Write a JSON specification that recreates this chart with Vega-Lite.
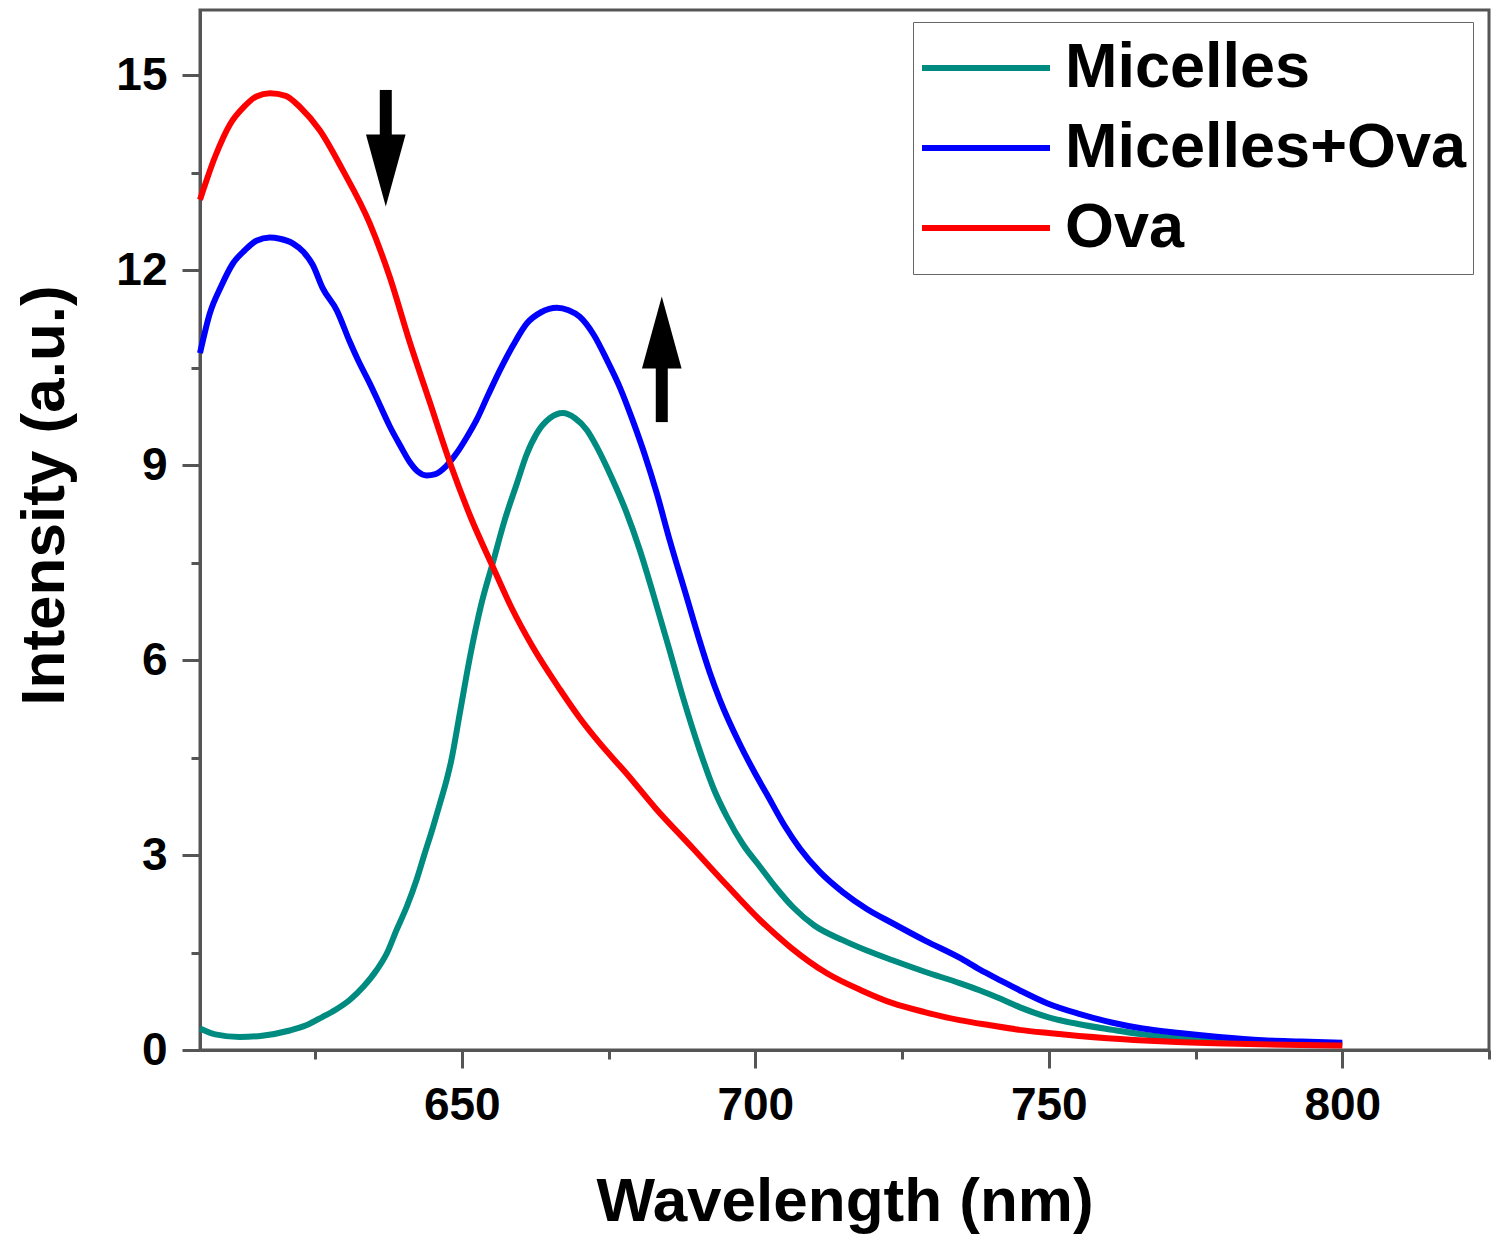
{
  "$schema": "https://vega.github.io/schema/vega-lite/v6.json",
  "width": 1289,
  "height": 1040,
  "autosize": {"type": "none"},
  "padding": {"left": 200, "top": 10, "right": 11, "bottom": 195},
  "background": "white",
  "config": {
    "view": {"stroke": "#555555", "strokeWidth": 3},
    "font": "Liberation Sans"
  },
  "datasets": {
    "spectra": [
      {"s": "Micelles", "w": 605.4, "i": 0.33},
      {"s": "Micelles", "w": 608, "i": 0.24},
      {"s": "Micelles", "w": 612.2, "i": 0.2},
      {"s": "Micelles", "w": 616, "i": 0.22},
      {"s": "Micelles", "w": 620.7, "i": 0.3},
      {"s": "Micelles", "w": 623.5, "i": 0.38},
      {"s": "Micelles", "w": 626.3, "i": 0.51},
      {"s": "Micelles", "w": 628.5, "i": 0.62},
      {"s": "Micelles", "w": 630.9, "i": 0.77},
      {"s": "Micelles", "w": 633.3, "i": 0.98},
      {"s": "Micelles", "w": 635.5, "i": 1.23},
      {"s": "Micelles", "w": 637.3, "i": 1.5},
      {"s": "Micelles", "w": 638.9, "i": 1.85},
      {"s": "Micelles", "w": 640.6, "i": 2.2},
      {"s": "Micelles", "w": 642.3, "i": 2.62},
      {"s": "Micelles", "w": 643.6, "i": 3.0},
      {"s": "Micelles", "w": 645.1, "i": 3.43},
      {"s": "Micelles", "w": 646.3, "i": 3.8},
      {"s": "Micelles", "w": 647.4, "i": 4.15},
      {"s": "Micelles", "w": 648.2, "i": 4.45},
      {"s": "Micelles", "w": 649.7, "i": 5.2},
      {"s": "Micelles", "w": 651.4, "i": 6.05},
      {"s": "Micelles", "w": 653.3, "i": 6.85},
      {"s": "Micelles", "w": 655.3, "i": 7.5},
      {"s": "Micelles", "w": 657.3, "i": 8.15},
      {"s": "Micelles", "w": 659.4, "i": 8.72},
      {"s": "Micelles", "w": 661, "i": 9.15},
      {"s": "Micelles", "w": 662.8, "i": 9.49},
      {"s": "Micelles", "w": 665, "i": 9.72},
      {"s": "Micelles", "w": 667.2, "i": 9.8},
      {"s": "Micelles", "w": 669.3, "i": 9.72},
      {"s": "Micelles", "w": 671.3, "i": 9.54},
      {"s": "Micelles", "w": 673, "i": 9.28},
      {"s": "Micelles", "w": 674.7, "i": 8.97},
      {"s": "Micelles", "w": 676.4, "i": 8.63},
      {"s": "Micelles", "w": 678.1, "i": 8.26},
      {"s": "Micelles", "w": 680.3, "i": 7.7},
      {"s": "Micelles", "w": 682.5, "i": 7.05},
      {"s": "Micelles", "w": 685.4, "i": 6.15},
      {"s": "Micelles", "w": 687.6, "i": 5.45},
      {"s": "Micelles", "w": 690.5, "i": 4.62},
      {"s": "Micelles", "w": 693, "i": 4.0},
      {"s": "Micelles", "w": 695.1, "i": 3.6},
      {"s": "Micelles", "w": 698, "i": 3.15},
      {"s": "Micelles", "w": 700.8, "i": 2.82},
      {"s": "Micelles", "w": 703.5, "i": 2.5},
      {"s": "Micelles", "w": 706.4, "i": 2.2},
      {"s": "Micelles", "w": 710, "i": 1.92},
      {"s": "Micelles", "w": 714.9, "i": 1.69},
      {"s": "Micelles", "w": 719, "i": 1.53},
      {"s": "Micelles", "w": 723.4, "i": 1.38},
      {"s": "Micelles", "w": 729, "i": 1.2},
      {"s": "Micelles", "w": 734.8, "i": 1.03},
      {"s": "Micelles", "w": 738.2, "i": 0.92},
      {"s": "Micelles", "w": 742, "i": 0.78},
      {"s": "Micelles", "w": 745, "i": 0.66},
      {"s": "Micelles", "w": 749.7, "i": 0.51},
      {"s": "Micelles", "w": 755, "i": 0.4},
      {"s": "Micelles", "w": 760.9, "i": 0.31},
      {"s": "Micelles", "w": 766, "i": 0.24},
      {"s": "Micelles", "w": 772.3, "i": 0.18},
      {"s": "Micelles", "w": 779, "i": 0.15},
      {"s": "Micelles", "w": 786.5, "i": 0.12},
      {"s": "Micelles", "w": 793, "i": 0.1},
      {"s": "Micelles", "w": 800, "i": 0.08},

      {"s": "Micelles+Ova", "w": 605.4, "i": 10.72},
      {"s": "Micelles+Ova", "w": 607.1, "i": 11.34},
      {"s": "Micelles+Ova", "w": 609, "i": 11.75},
      {"s": "Micelles+Ova", "w": 611, "i": 12.1},
      {"s": "Micelles+Ova", "w": 613, "i": 12.3},
      {"s": "Micelles+Ova", "w": 615, "i": 12.45},
      {"s": "Micelles+Ova", "w": 617.3, "i": 12.5},
      {"s": "Micelles+Ova", "w": 619, "i": 12.48},
      {"s": "Micelles+Ova", "w": 621.2, "i": 12.41},
      {"s": "Micelles+Ova", "w": 623, "i": 12.28},
      {"s": "Micelles+Ova", "w": 624.6, "i": 12.08},
      {"s": "Micelles+Ova", "w": 626.3, "i": 11.72},
      {"s": "Micelles+Ova", "w": 628.7, "i": 11.38},
      {"s": "Micelles+Ova", "w": 630.9, "i": 10.9},
      {"s": "Micelles+Ova", "w": 632.5, "i": 10.58},
      {"s": "Micelles+Ova", "w": 634.3, "i": 10.26},
      {"s": "Micelles+Ova", "w": 636, "i": 9.93},
      {"s": "Micelles+Ova", "w": 637.7, "i": 9.6},
      {"s": "Micelles+Ova", "w": 639.5, "i": 9.3},
      {"s": "Micelles+Ova", "w": 641.1, "i": 9.05},
      {"s": "Micelles+Ova", "w": 642.5, "i": 8.9},
      {"s": "Micelles+Ova", "w": 644, "i": 8.84},
      {"s": "Micelles+Ova", "w": 645.5, "i": 8.86},
      {"s": "Micelles+Ova", "w": 647.3, "i": 8.98},
      {"s": "Micelles+Ova", "w": 649.1, "i": 9.18},
      {"s": "Micelles+Ova", "w": 650.8, "i": 9.42},
      {"s": "Micelles+Ova", "w": 652.5, "i": 9.69},
      {"s": "Micelles+Ova", "w": 654.5, "i": 10.08},
      {"s": "Micelles+Ova", "w": 656.5, "i": 10.46},
      {"s": "Micelles+Ova", "w": 658.8, "i": 10.85},
      {"s": "Micelles+Ova", "w": 661.1, "i": 11.18},
      {"s": "Micelles+Ova", "w": 663.5, "i": 11.35},
      {"s": "Micelles+Ova", "w": 666.2, "i": 11.42},
      {"s": "Micelles+Ova", "w": 668.2, "i": 11.38},
      {"s": "Micelles+Ova", "w": 670.1, "i": 11.28},
      {"s": "Micelles+Ova", "w": 672.5, "i": 11.0},
      {"s": "Micelles+Ova", "w": 674.7, "i": 10.62},
      {"s": "Micelles+Ova", "w": 677, "i": 10.18},
      {"s": "Micelles+Ova", "w": 679.1, "i": 9.69},
      {"s": "Micelles+Ova", "w": 681.2, "i": 9.15},
      {"s": "Micelles+Ova", "w": 683.2, "i": 8.57},
      {"s": "Micelles+Ova", "w": 685.4, "i": 7.85},
      {"s": "Micelles+Ova", "w": 688.3, "i": 6.97},
      {"s": "Micelles+Ova", "w": 690.5, "i": 6.3},
      {"s": "Micelles+Ova", "w": 692.2, "i": 5.82},
      {"s": "Micelles+Ova", "w": 694, "i": 5.38},
      {"s": "Micelles+Ova", "w": 697.4, "i": 4.7},
      {"s": "Micelles+Ova", "w": 700, "i": 4.25},
      {"s": "Micelles+Ova", "w": 702, "i": 3.93},
      {"s": "Micelles+Ova", "w": 705, "i": 3.45},
      {"s": "Micelles+Ova", "w": 707.6, "i": 3.1},
      {"s": "Micelles+Ova", "w": 711, "i": 2.74},
      {"s": "Micelles+Ova", "w": 714.9, "i": 2.43},
      {"s": "Micelles+Ova", "w": 719, "i": 2.17},
      {"s": "Micelles+Ova", "w": 723.4, "i": 1.95},
      {"s": "Micelles+Ova", "w": 729, "i": 1.68},
      {"s": "Micelles+Ova", "w": 734.8, "i": 1.42},
      {"s": "Micelles+Ova", "w": 738.2, "i": 1.24},
      {"s": "Micelles+Ova", "w": 742, "i": 1.06},
      {"s": "Micelles+Ova", "w": 745, "i": 0.92},
      {"s": "Micelles+Ova", "w": 749.7, "i": 0.72},
      {"s": "Micelles+Ova", "w": 755, "i": 0.56},
      {"s": "Micelles+Ova", "w": 760.9, "i": 0.42},
      {"s": "Micelles+Ova", "w": 766, "i": 0.33},
      {"s": "Micelles+Ova", "w": 772.3, "i": 0.26},
      {"s": "Micelles+Ova", "w": 779, "i": 0.2},
      {"s": "Micelles+Ova", "w": 786.5, "i": 0.15},
      {"s": "Micelles+Ova", "w": 793, "i": 0.13},
      {"s": "Micelles+Ova", "w": 800, "i": 0.11},

      {"s": "Ova", "w": 605.4, "i": 13.08},
      {"s": "Ova", "w": 608, "i": 13.75},
      {"s": "Ova", "w": 610.5, "i": 14.24},
      {"s": "Ova", "w": 613, "i": 14.52},
      {"s": "Ova", "w": 615, "i": 14.67},
      {"s": "Ova", "w": 617.3, "i": 14.72},
      {"s": "Ova", "w": 620, "i": 14.68},
      {"s": "Ova", "w": 622.5, "i": 14.5},
      {"s": "Ova", "w": 625.8, "i": 14.15},
      {"s": "Ova", "w": 629.7, "i": 13.54},
      {"s": "Ova", "w": 634.3, "i": 12.72},
      {"s": "Ova", "w": 637.7, "i": 11.9},
      {"s": "Ova", "w": 641.1, "i": 10.9},
      {"s": "Ova", "w": 644.5, "i": 9.98},
      {"s": "Ova", "w": 648, "i": 9.03},
      {"s": "Ova", "w": 651.5, "i": 8.2},
      {"s": "Ova", "w": 655.3, "i": 7.43},
      {"s": "Ova", "w": 658.5, "i": 6.8},
      {"s": "Ova", "w": 662.1, "i": 6.2},
      {"s": "Ova", "w": 666.7, "i": 5.55},
      {"s": "Ova", "w": 670, "i": 5.12},
      {"s": "Ova", "w": 673.5, "i": 4.72},
      {"s": "Ova", "w": 678.1, "i": 4.25},
      {"s": "Ova", "w": 683, "i": 3.72},
      {"s": "Ova", "w": 689.4, "i": 3.1},
      {"s": "Ova", "w": 695, "i": 2.55},
      {"s": "Ova", "w": 700.8, "i": 2.0},
      {"s": "Ova", "w": 706, "i": 1.58},
      {"s": "Ova", "w": 712.2, "i": 1.18},
      {"s": "Ova", "w": 718, "i": 0.92},
      {"s": "Ova", "w": 723.4, "i": 0.72},
      {"s": "Ova", "w": 729, "i": 0.58},
      {"s": "Ova", "w": 734.8, "i": 0.46},
      {"s": "Ova", "w": 740, "i": 0.38},
      {"s": "Ova", "w": 745, "i": 0.31},
      {"s": "Ova", "w": 750, "i": 0.26},
      {"s": "Ova", "w": 760, "i": 0.18},
      {"s": "Ova", "w": 770, "i": 0.13},
      {"s": "Ova", "w": 780, "i": 0.1},
      {"s": "Ova", "w": 790, "i": 0.08},
      {"s": "Ova", "w": 800, "i": 0.07}
    ],
    "arrows": [
      {"dir": "down", "w": 637.05, "top": 14.77, "bottom": 13.85, "head": 13.53},
      {"dir": "up", "w": 684.07, "top": 10.62, "bottom": 9.66, "head": 11.04}
    ]
  },
  "resolve": {"axis": {"x": "independent", "y": "independent"}},
  "layer": [
    {
      "data": {"name": "spectra"},
      "mark": {"type": "line", "strokeWidth": 6, "interpolate": "monotone"},
      "encoding": {
        "x": {
          "field": "w",
          "type": "quantitative",
          "scale": {"domain": [605.4, 825], "nice": false, "zero": false},
          "axis": {
            "orient": "bottom",
            "title": "Wavelength (nm)",
            "titleFontSize": 62,
            "titleFontWeight": "bold",
            "titleFont": "Liberation Sans",
            "titleColor": "black",
            "titleY": 170,
            "titleBaseline": "alphabetic",
            "values": [650, 700, 750, 800],
            "labelFontSize": 46,
            "labelFontWeight": "bold",
            "labelFont": "Liberation Sans",
            "labelColor": "black",
            "labelPadding": 15,
            "labelFlush": false,
            "labelOverlap": false,
            "labelBound": false,
            "tickSize": 18,
            "tickWidth": 3,
            "tickColor": "#555555",
            "domainColor": "#555555",
            "domainWidth": 3,
            "grid": false
          }
        },
        "y": {
          "field": "i",
          "type": "quantitative",
          "scale": {"domain": [0, 16], "nice": false},
          "axis": {
            "orient": "left",
            "title": "Intensity (a.u.)",
            "titleFontSize": 62,
            "titleFontWeight": "bold",
            "titleFont": "Liberation Sans",
            "titleColor": "black",
            "titleX": -137,
            "titleY": 485,
            "titleBaseline": "alphabetic",
            "values": [0, 3, 6, 9, 12, 15],
            "labelFontSize": 46,
            "labelFontWeight": "bold",
            "labelFont": "Liberation Sans",
            "labelColor": "black",
            "labelPadding": 15,
            "labelFlush": false,
            "labelOverlap": false,
            "labelBound": false,
            "tickSize": 18,
            "tickWidth": 3,
            "tickColor": "#555555",
            "domainColor": "#555555",
            "domainWidth": 3,
            "grid": false
          }
        },
        "color": {
          "field": "s",
          "type": "nominal",
          "scale": {"domain": ["Micelles", "Micelles+Ova", "Ova"], "range": ["#008B80", "#0000FF", "#FF0000"]},
          "legend": {
            "title": null,
            "orient": "none",
            "legendX": 713,
            "legendY": 12,
            "padding": 6,
            "symbolType": "stroke",
            "symbolSize": 16384,
            "symbolStrokeWidth": 6,
            "labelFontSize": 63,
            "labelFontWeight": "bold",
            "labelFont": "Liberation Sans",
            "labelColor": "black",
            "labelOffset": 12,
            "labelLimit": 600,
            "rowPadding": 0,
            "clipHeight": 80,
            "strokeColor": "#666666",
            "fillColor": "white"
          }
        }
      }
    },
    {
      "data": {"name": "arrows"},
      "mark": {"type": "rule", "strokeWidth": 12, "color": "black"},
      "encoding": {
        "x": {
          "field": "w",
          "type": "quantitative",
          "axis": {
            "orient": "bottom",
            "title": null,
            "values": [625, 675, 725, 775, 825],
            "labels": false,
            "domain": false,
            "grid": false,
            "tickSize": 9,
            "tickWidth": 3,
            "tickColor": "#555555"
          }
        },
        "y": {
          "field": "top",
          "type": "quantitative",
          "axis": {
            "orient": "left",
            "title": null,
            "values": [1.5, 4.5, 7.5, 10.5, 13.5],
            "labels": false,
            "domain": false,
            "grid": false,
            "tickSize": 9,
            "tickWidth": 3,
            "tickColor": "#555555"
          }
        },
        "y2": {"field": "bottom"}
      }
    },
    {
      "data": {"name": "arrows"},
      "mark": {"type": "point", "filled": true, "color": "black", "opacity": 1, "size": 5184, "strokeWidth": 0},
      "encoding": {
        "x": {"field": "w", "type": "quantitative", "axis": null},
        "y": {"field": "head", "type": "quantitative", "axis": null},
        "shape": {
          "field": "dir",
          "type": "nominal",
          "scale": {"domain": ["down", "up"], "range": ["M-0.55,-1L0.55,-1L0,1Z", "M-0.55,1L0.55,1L0,-1Z"]},
          "legend": null
        }
      }
    }
  ]
}
